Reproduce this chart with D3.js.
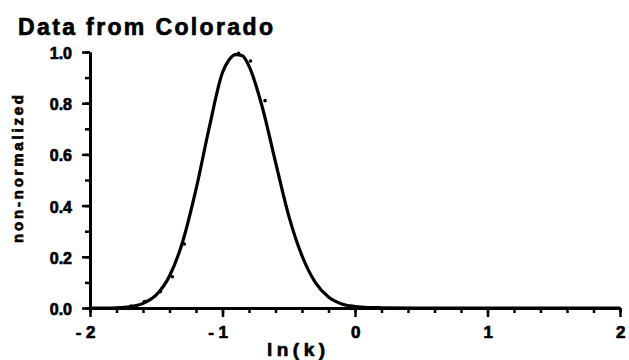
<!doctype html>
<html lang="en">
  <head>
    <meta charset="UTF-8" />
    <title>Data from Colorado</title>
    <script src="https://unpkg.com/d3@7.9.0/dist/d3.min.js"></script>
    <style>
      body {
        margin: 0;
        background: #fff;
      }
      svg text {
        font-family: 'Liberation Sans', Arial, sans-serif;
        font-weight: bold;
        fill: #000;
        stroke: #000;
        stroke-width: 0.7px;
      }
      .axis path,
      .axis line {
        stroke: #000;
      }
      .axis path {
        stroke-width: 3px;
      }
      .axis line {
        stroke-width: 2.5px;
      }
    </style>
  </head>
  <body>
    <div id="graph"></div>

    <script>
      // fitted curve
      const lnK = [
        -2.0, -1.9, -1.8, -1.7, -1.6, -1.5, -1.4, -1.3, -1.2, -1.1, -1.0,
        -0.95, -0.9, -0.85, -0.8, -0.7, -0.6, -0.5, -0.4, -0.3, -0.2, -0.1,
        0.0, 0.1, 0.2, 0.5, 1.0, 1.5, 2.0,
      ];
      const fitValues = [
        0, 0, 0.001, 0.005, 0.018, 0.051, 0.125, 0.26, 0.463, 0.705, 0.92,
        0.97, 0.99, 0.985, 0.945, 0.785, 0.57, 0.36, 0.204, 0.1, 0.043, 0.016,
        0.006, 0.002, 0.001, 0, 0, 0, 0,
      ];

      // small data marks sitting on the curve
      const markK = [-1.7, -1.6, -1.48, -1.39, -1.3, -0.89, -0.8, -0.69];
      const markValues = [0.008, 0.025, 0.064, 0.122, 0.25, 0.995, 0.965, 0.81];

      const xMajor = [-2, -1, 0, 1, 2];
      const xLabels = ['- 2', '- 1', '0', '1', '2'];
      const yMajor = [0, 0.2, 0.4, 0.6, 0.8, 1.0];
      const yLabels = ['0.0', '0.2', '0.4', '0.6', '0.8', '1.0'];

      const W = 629;
      const H = 360;

      const svg = d3
        .select('#graph')
        .append('svg')
        .attr('width', W)
        .attr('height', H);

      const x = d3.scaleLinear().domain([-2, 2]).range([90, 620]);
      const y = d3.scaleLinear().domain([0, 1]).range([308, 52]);

      // minor ticks
      svg
        .append('g')
        .attr('class', 'axis')
        .attr('transform', `translate(0,${y(0)})`)
        .call(
          d3
            .axisBottom(x)
            .tickValues(d3.range(-20, 21, 2).map((d) => d / 10))
            .tickSize(5)
            .tickSizeOuter(0)
            .tickFormat(''),
        );
      svg
        .append('g')
        .attr('class', 'axis')
        .attr('transform', `translate(${x(-2)},0)`)
        .call(
          d3
            .axisLeft(y)
            .tickValues(d3.range(0, 11).map((d) => d / 10))
            .tickSize(5)
            .tickSizeOuter(0)
            .tickFormat(''),
        );

      // major ticks + labels
      const xAxis = svg
        .append('g')
        .attr('class', 'axis')
        .attr('transform', `translate(0,${y(0)})`)
        .call(
          d3
            .axisBottom(x)
            .tickValues(xMajor)
            .tickSize(9)
            .tickSizeOuter(0)
            .tickFormat((d, i) => xLabels[i]),
        );
      xAxis
        .selectAll('text')
        .attr('y', 30)
        .attr('dy', 0)
        .attr('x', 5)
        .attr('text-anchor', 'end')
        .style('font-size', '17px');

      const yAxis = svg
        .append('g')
        .attr('class', 'axis')
        .attr('transform', `translate(${x(-2)},0)`)
        .call(
          d3
            .axisLeft(y)
            .tickValues(yMajor)
            .tickSize(8)
            .tickSizeOuter(0)
            .tickFormat((d, i) => yLabels[i]),
        );
      yAxis
        .selectAll('text')
        .attr('x', -18)
        .attr('dy', '0.4em')
        .style('font-size', '16px');

      // curve
      const line = d3
        .line()
        .x((d, i) => x(lnK[i]))
        .y((d) => y(d))
        .curve(d3.curveMonotoneX);

      svg
        .append('path')
        .datum(fitValues)
        .attr('d', line)
        .attr('fill', 'none')
        .attr('stroke', '#000')
        .attr('stroke-width', 3.2);

      svg
        .selectAll('.mark')
        .data(markValues)
        .enter()
        .append('circle')
        .attr('class', 'mark')
        .attr('cx', (d, i) => x(markK[i]) + 1.5)
        .attr('cy', (d) => y(d))
        .attr('r', 1.8)
        .attr('fill', '#000');

      // texts
      svg
        .append('text')
        .attr('x', 18)
        .attr('y', 35)
        .attr('textLength', 255)
        .attr('lengthAdjust', 'spacing')
        .style('font-size', '23px')
        .text('Data from Colorado');

      svg
        .append('text')
        .attr('x', 267)
        .attr('y', 356)
        .attr('textLength', 58)
        .attr('lengthAdjust', 'spacing')
        .style('font-size', '19px')
        .text('ln(k)');

      svg
        .append('text')
        .attr('transform', 'translate(23,169) rotate(-90)')
        .attr('text-anchor', 'middle')
        .attr('textLength', 148)
        .attr('lengthAdjust', 'spacing')
        .style('font-size', '15px')
        .text('non-normalized');
    </script>
  </body>
</html>
